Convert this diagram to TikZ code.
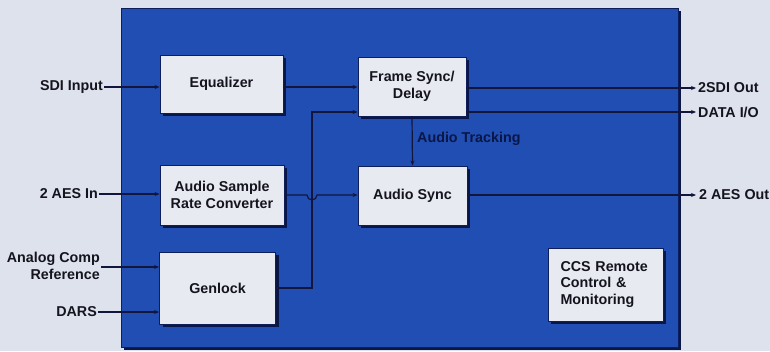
\documentclass[tikz,border=0pt]{standalone}
\usepackage{fontspec}
\setmainfont{Liberation Sans}
\usetikzlibrary{arrows.meta}
\definecolor{bgc}{RGB}{222,226,236}
\definecolor{bluec}{RGB}{32,78,178}
\definecolor{blueedge}{RGB}{14,30,90}
\definecolor{boxc}{RGB}{232,234,241}
\definecolor{shadowc}{RGB}{10,22,70}
\definecolor{linec}{RGB}{18,22,60}
\definecolor{txtc}{RGB}{20,20,30}
\begin{document}
\begin{tikzpicture}[x=1pt,y=-1pt,
  every node/.style={font=\bfseries\fontsize{14.3}{16.5}\selectfont, text=txtc},
  blockbox/.style={draw=blueedge, line width=0.8pt, fill=boxc, inner sep=0pt,
    preaction={fill=shadowc, transform canvas={xshift=3pt,yshift=-3pt}}},
  conn/.style={draw=linec, line width=1.2pt},
  arr/.style={conn, -{Stealth[length=5pt,width=4pt]}},
  lbl/.style={inner sep=1pt, align=right}
]
\useasboundingbox (0,0) rectangle (770,351);
\fill[bgc] (0,0) rectangle (770,351);
% panel
\fill[shadowc] (124,11) rectangle (681,350);
\fill[bluec] (121,8) rectangle (678,347);
\draw[blueedge, line width=1pt] (121,8) rectangle (678,347);

% blocks
\node[blockbox, minimum width=123pt, minimum height=58pt] (eq) at (221.5,84) {Equalizer};
\node[blockbox, minimum width=124pt, minimum height=60pt, align=center] (asrc) at (222,195) {Audio Sample\\Rate Converter};
\node[blockbox, minimum width=116pt, minimum height=72pt] (gen) at (217.5,288) {Genlock};
\node[blockbox, minimum width=108pt, minimum height=59pt, align=center] (fs) at (412,86.5) {Frame Sync/\\Delay};
\node[blockbox, minimum width=109pt, minimum height=59pt] (as) at (412.5,195.5) {Audio Sync};
\node[blockbox, minimum width=115pt, minimum height=73pt, align=left, text width=90pt] (ccs) at (605.5,284.5) {CCS Remote\\Control \&\\Monitoring};

% input labels
\node[lbl, anchor=east] (sdi) at (104,87) {SDI Input};
\node[lbl, anchor=east] (aesin) at (99,194) {2 AES In};
\node[lbl, anchor=east] (acr) at (101,266) {Analog Comp\\Reference};
\node[lbl, anchor=east] (dars) at (98,312) {DARS};

% output labels
\coordinate (o1) at (696,88);
\coordinate (o2) at (696,112);
\coordinate (o3) at (696,195);
\node[inner sep=0pt, anchor=west] (sdiout) at (698,88) {2SDI Out};
\node[inner sep=0pt, anchor=west] (dataio) at (698,112) {DATA I/O};
\node[inner sep=0pt, anchor=west] (aesout) at (699,195) {2 AES Out};

% connectors inputs
\draw[arr] (sdi.east) -- (sdi.east -| eq.west);
\draw[arr] (aesin.east) -- (aesin.east -| asrc.west);
\draw[arr] (acr.east |- 0,267) -- (gen.west |- 0,267);
\draw[arr] (dars.east) -- (dars.east -| gen.west);
\draw[arr] (eq.east |- 0,87) -- (fs.west |- 0,87);

% genlock reference line
\coordinate (gv) at (312,112);
\draw[arr] (gen.east) -| (gv) -- (gv -| fs.west);

% ASRC to audio sync with hop
\coordinate (hop) at (312,195);
\draw[arr] (asrc.east |- hop) -- ([xshift=-5pt]hop) arc (180:360:5pt) -- (hop -| as.west);

% audio tracking
\draw[arr] (fs.south) -- (as.north);
\node[anchor=west, inner sep=0pt, text=shadowc] (at) at (417,139) {Audio Tracking};

% outputs
\draw[arr] (o1 -| fs.east) -- (o1);
\draw[arr] (o2 -| fs.east) -- (o2);
\draw[arr] (o3 -| as.east) -- (o3);
\end{tikzpicture}
\end{document}
